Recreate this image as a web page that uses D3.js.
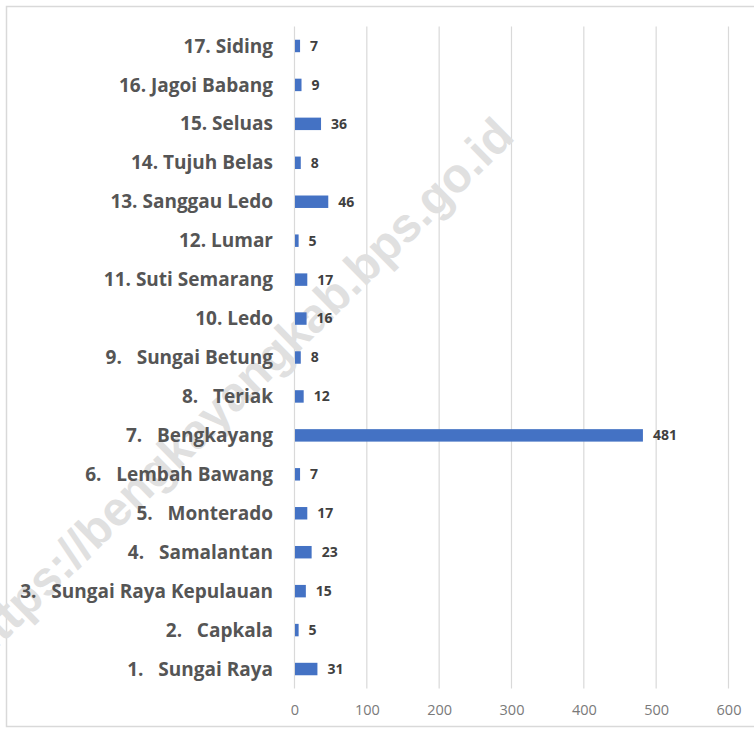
<!DOCTYPE html>
<html>
<head>
<meta charset="utf-8">
<script src="https://cdn.jsdelivr.net/npm/d3@7"></script>
<style>
  html, body { margin: 0; padding: 0; background: #fff; }
  svg { display: block; }
</style>
</head>
<body>
<svg id="chart" width="754" height="729"></svg>
<script>
const categories = [
  "1.   Sungai Raya",
  "2.   Capkala",
  "3.   Sungai Raya Kepulauan",
  "4.   Samalantan",
  "5.   Monterado",
  "6.   Lembah Bawang",
  "7.   Bengkayang",
  "8.   Teriak",
  "9.   Sungai Betung",
  "10. Ledo",
  "11. Suti Semarang",
  "12. Lumar",
  "13. Sanggau Ledo",
  "14. Tujuh Belas",
  "15. Seluas",
  "16. Jagoi Babang",
  "17. Siding"
];
const values = [31, 5, 15, 23, 17, 7, 481, 12, 8, 16, 17, 5, 46, 8, 36, 9, 7];
const xTicks = [0, 100, 200, 300, 400, 500, 600];
const watermark = "https://bengkayangkab.bps.go.id";

const data = categories.map((c, i) => ({ cat: c, val: values[i] }));

const svg = d3.select("#chart");
const W = 754, H = 729;
const mLeft = 294, mRight = 728, mTop = 26.5, mBottom = 688.5;

// frame
svg.append("rect")
  .attr("x", 6.5).attr("y", 6.5)
  .attr("width", W + 10).attr("height", 720)
  .attr("fill", "#fff").attr("stroke", "#d9d9d9").attr("stroke-width", 1.5);

const x = d3.scaleLinear().domain([0, 600]).range([mLeft, mRight]);
const y = d3.scaleBand()
  .domain(categories.slice().reverse())
  .range([mTop, mBottom])
  .paddingInner(0.68).paddingOuter(0.34);

// gridlines
svg.append("g").selectAll("line")
  .data(xTicks).join("line")
  .attr("x1", d => x(d) + 0.5).attr("x2", d => x(d) + 0.5)
  .attr("y1", mTop).attr("y2", mBottom)
  .attr("stroke", "#d9d9d9").attr("stroke-width", 1.2);

// watermark
svg.append("text")
  .attr("transform", "translate(249,401) rotate(-44.5)")
  .attr("text-anchor", "middle")
  .attr("font-family", "'Liberation Sans', Arial, sans-serif")
  .attr("font-weight", 700)
  .attr("font-size", 48)
  .attr("fill", "#e0e0e0")
  .text(watermark);

// bars
svg.append("g").selectAll("rect")
  .data(data).join("rect")
  .attr("x", x(0) + 1)
  .attr("y", d => y(d.cat))
  .attr("width", d => x(d.val) - x(0))
  .attr("height", y.bandwidth())
  .attr("fill", "#4472c4");

// category labels
const axisY = d3.axisLeft(y).tickSize(0).tickPadding(0);
const gy = svg.append("g").attr("transform", `translate(273,0.5)`).call(axisY);
gy.select(".domain").remove();
gy.selectAll("text")
  .attr("font-family", "'Open Sans', sans-serif")
  .attr("font-weight", 700)
  .attr("font-size", 19)
  .attr("fill", "#555555")
  .style("white-space", "pre")
  .attr("xml:space", "preserve");

// value labels
svg.append("g").selectAll("text")
  .data(data).join("text")
  .attr("x", d => x(d.val) + 11)
  .attr("y", d => y(d.cat) + y.bandwidth() / 2)
  .attr("dy", "0.35em")
  .attr("font-family", "'Open Sans', sans-serif")
  .attr("font-weight", 700)
  .attr("font-size", 14)
  .attr("fill", "#404040")
  .text(d => d.val);

// x axis tick labels
const axisX = d3.axisBottom(x).tickValues(xTicks).tickSize(0).tickPadding(0);
const gx = svg.append("g").attr("transform", `translate(0.5,${mBottom + 16})`).call(axisX);
gx.select(".domain").remove();
gx.selectAll("text")
  .attr("font-family", "'Open Sans', sans-serif")
  .attr("font-size", 14.5)
  .attr("fill", "#7a7a7a");
</script>
</body>
</html>
